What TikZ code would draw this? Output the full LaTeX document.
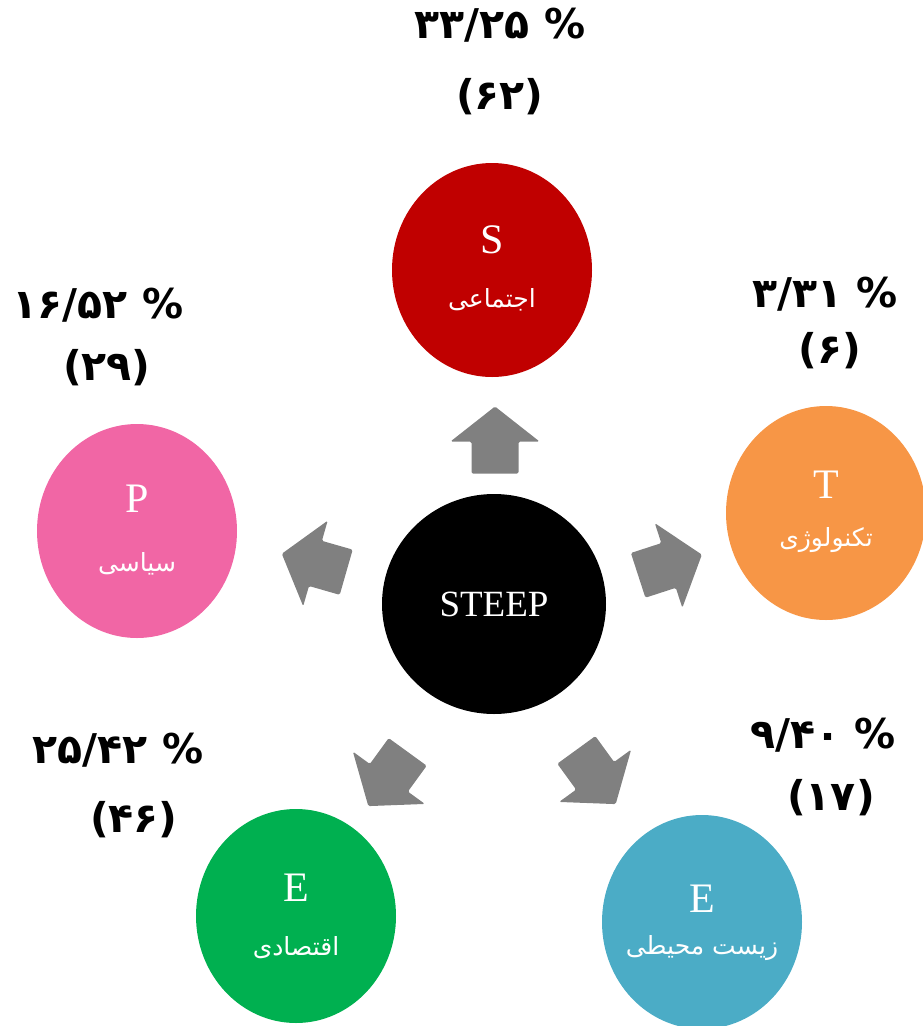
\documentclass[tikz,border=0pt]{standalone}
\usepackage{fontspec}
\usepackage{tikz}
\usetikzlibrary{shapes.geometric}
\TeXXeTstate=1
\setmainfont{Liberation Serif}
\newfontfamily\arabicfont[Script=Arabic]{DejaVu Sans}
\newfontfamily\numfont[Script=Arabic]{DejaVu Sans}

\definecolor{socialred}{HTML}{C00000}
\definecolor{politicpink}{HTML}{F166A5}
\definecolor{techorange}{HTML}{F79646}
\definecolor{econgreen}{HTML}{00B050}
\definecolor{envblue}{HTML}{4BACC6}
\definecolor{arrowgray}{HTML}{808080}

% block arrow: centre x, centre y, direction
\newcommand{\steeparrow}[3]{%
  \fill[arrowgray, rounded corners=1.5pt, shift={(#1,#2)}, rotate=#3]
    (33.5,0) -- (-1.5,44.5) -- (-1.5,23.5) -- (-33.5,23.5)
    -- (-33.5,-23.5) -- (-1.5,-23.5) -- (-1.5,-44.5) -- cycle;}

\begin{document}
\begin{tikzpicture}[x=1pt,y=1pt,
  ball/.style={ellipse, minimum width=200pt, minimum height=214pt, inner sep=0pt},
  letter/.style={text=white, inner sep=0pt, font=\fontsize{42}{42}\selectfont},
  farsi/.style={text=white, inner sep=0pt, font=\arabicfont\fontsize{25}{28}\selectfont},
  share/.style={inner sep=0pt, font=\numfont\bfseries\fontsize{41}{42}\selectfont}]
\useasboundingbox (0,0) rectangle (923,-1026);

% centre
\node[ellipse, minimum width=224pt, minimum height=220pt, inner sep=0pt, fill=black,
  text=white, font=\fontsize{37}{37}\selectfont] (steep) at (494,-604) {STEEP};

% the five factors
\node[ball, fill=socialred] (S) at (492,-270) {};
\node[letter] (Sl) at ([yshift=30]S.center) {S};
\node[farsi] (Sf) at ([yshift=-30]S.center) {\beginR اجتماعی\endR};

\node[ball, fill=politicpink] (P) at (137,-531) {};
\node[letter] (Pl) at ([yshift=32]P.center) {P};
\node[farsi] (Pf) at ([yshift=-33]P.center) {\beginR سیاسی\endR};

\node[ball, fill=techorange] (T) at (826,-513) {};
\node[letter] (Tl) at ([yshift=28]T.center) {T};
\node[farsi] (Tf) at ([yshift=-27]T.center) {\beginR تکنولوژی\endR};

\node[ball, fill=econgreen] (Ec) at (296,-916) {};
\node[letter] (Ecl) at ([yshift=28]Ec.center) {E};
\node[farsi] (Ecf) at ([yshift=-32]Ec.center) {\beginR اقتصادی\endR};

\node[ball, fill=envblue] (En) at (702,-922) {};
\node[letter] (Enl) at ([yshift=23]En.center) {E};
\node[farsi] (Enf) at ([yshift=-26]En.center) {\beginR زیست محیطی\endR};

% arrows out of the centre
\steeparrow{495}{-440}{90}
\steeparrow{314}{-563}{164}
\steeparrow{670}{-565}{18}
\steeparrow{388}{-779}{234}
\steeparrow{596}{-777}{306}

% shares
\node[share] (Sp) at (500,-25) {۳۳/۲۵ \%};
\node[share] (Sn) at (500,-97) {(۶۲)};
\node[share] (Pp) at (98,-305) {۱۶/۵۲ \%};
\node[share] (Pn) at (107,-368) {(۲۹)};
\node[share] (Tp) at (825,-294) {۳/۳۱ \%};
\node[share] (Tn) at (830,-351) {(۶)};
\node[share] (Ecp) at (118,-750) {۲۵/۴۲ \%};
\node[share] (Ecn) at (134,-820) {(۴۶)};
\node[share] (Enp) at (823,-735) {۹/۴۰ \%};
\node[share] (Enn) at (831,-798) {(۱۷)};
\end{tikzpicture}
\end{document}
